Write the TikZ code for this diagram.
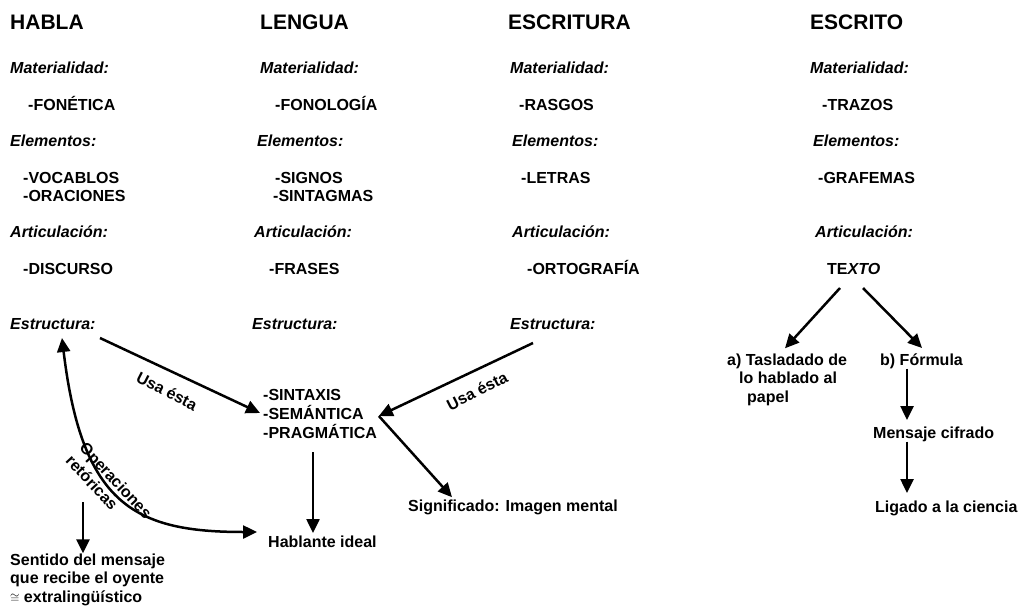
\documentclass[tikz,border=0pt]{standalone}
\usepackage{fontspec}
\setmainfont{Liberation Sans}
\usetikzlibrary{arrows.meta,calc}
\begin{document}
\begin{tikzpicture}[x=1pt,y=-1pt,
  txt/.style={anchor=base west,inner sep=0pt,font=\fontsize{16}{18.5}\selectfont\bfseries},
  lab/.style={anchor=base west,inner sep=0pt,font=\fontsize{16}{18.5}\selectfont\bfseries\itshape},
  head/.style={anchor=base west,inner sep=0pt,font=\fontsize{21}{24}\selectfont\bfseries},
  rot/.style={inner sep=0pt,font=\fontsize{16}{19}\selectfont\bfseries},
  arr/.style={line width=2.5pt,-{Triangle[length=14pt,width=13pt]}},
  darr/.style={line width=2.5pt,{Triangle[length=14pt,width=13pt]}-{Triangle[length=14pt,width=13pt]}},
]
\useasboundingbox (0,0) rectangle (1023,608);

% column 1: HABLA
\node[head] (h1) at (10,29) {HABLA};
\node[lab] (m1) at (10,73) {Materialidad:};
\node[txt] (f1) at (28,110) {-FONÉTICA};
\node[lab] (el1) at (10,146) {Elementos:};
\node[txt] (v1) at (23,183) {-VOCABLOS};
\node[txt] (o1) at (23,201) {-ORACIONES};
\node[lab] (a1) at (10,237) {Articulación:};
\node[txt] (d1) at (23,274) {-DISCURSO};
\node[lab] (e1) at (10,329) {Estructura:};

% column 2: LENGUA
\node[head] (h2) at (260,29) {LENGUA};
\node[lab] (m2) at (260,73) {Materialidad:};
\node[txt] (f2) at (275,110) {-FONOLOGÍA};
\node[lab] (el2) at (257,146) {Elementos:};
\node[txt] (s2) at (275,183) {-SIGNOS};
\node[txt] (t2) at (273,201) {-SINTAGMAS};
\node[lab] (a2) at (254,237) {Articulación:};
\node[txt] (fr2) at (269,274) {-FRASES};
\node[lab] (e2) at (252,329) {Estructura:};

% column 3: ESCRITURA
\node[head] (h3) at (508,29) {ESCRITURA};
\node[lab] (m3) at (510,73) {Materialidad:};
\node[txt] (r3) at (519,110) {-RASGOS};
\node[lab] (el3) at (512,146) {Elementos:};
\node[txt] (l3) at (521,183) {-LETRAS};
\node[lab] (a3) at (512,237) {Articulación:};
\node[txt] (or3) at (527,274) {-ORTOGRAFÍA};
\node[lab] (e3) at (510,329) {Estructura:};

% column 4: ESCRITO
\node[head] (h4) at (810,29) {ESCRITO};
\node[lab] (m4) at (810,73) {Materialidad:};
\node[txt] (tr4) at (822,110) {-TRAZOS};
\node[lab] (el4) at (813,146) {Elementos:};
\node[txt] (g4) at (818,183) {-GRAFEMAS};
\node[lab] (a4) at (815,237) {Articulación:};
\node[txt] (texto) at (827,274) {TE\textit{XTO}};

% centre block
\node[txt] (sin) at (263,400) {-SINTAXIS};
\node[txt] (sem) at (263,419) {-SEMÁNTICA};
\node[txt] (prag) at (263,438) {-PRAGMÁTICA};
\node[txt] (hab) at (268,547) {Hablante ideal};
\node[txt] (sig) at (408,511) {Significado: Imagen mental};
\node[txt,anchor=north west,align=left] (sen) at (10,553.3)
  {Sentido del mensaje\\que recibe el oyente\\{\normalfont\fontsize{12}{12}\selectfont$\cong$} extralingüístico};

% right block
\node[txt,anchor=north west,align=left] (tas) at (727,353.3)
  {a) Tasladado de\\\hspace*{12pt}lo hablado al\\\hspace*{20pt}papel};
\node[txt] (fo) at (880,365) {b) Fórmula};
\node[txt] (men) at (873,438) {Mensaje cifrado};
\node[txt] (lig) at (875,512) {Ligado a la ciencia};

% coordinates
\coordinate (semR) at ($(sem.base east)+(15,-3)$);
\coordinate (senS) at (83,502);

% connectors
\draw[arr] ($(e1.base west)+(90,9)$) -- ($(sem.base west)+(-3,-6)$);
\node[rot,rotate=-27] (usa1) at (167,391) {Usa ésta};
\draw[arr] ($(e3.base west)+(23,14)$) -- (semR);
\node[rot,rotate=27] (usa2) at (477,391) {Usa ésta};
\draw[arr] (semR) -- ($(sig.north west)+(44,-2)$);
\draw[arr] ($(prag.base west)+(50,14)$) -- ($(hab.base west)+(45,-14)$);
\draw[darr] ($(e1.base west)+(52,9)$) .. controls (82,505) and (135,532) .. ($(hab.base west)+(-11,-15)$);
\node[rot,rotate=-47,align=left] (oper) at (109,487) {Operaciones\\retóricas};
\draw[arr] (senS) -- ($(sen.north west)+(73,0)$);

\draw[arr] ($(texto.base west)+(13,14)$) -- ($(tas.north west)+(58,-5)$);
\draw[arr] ($(texto.base west)+(36,14)$) -- ($(fo.base west)+(42,-17)$);
\draw[arr] ($(fo.base west)+(27,3.5)$) -- ($(men.base west)+(34,-18)$);
\draw[arr] ($(men.base west)+(34,3.5)$) -- ($(lig.base west)+(32,-19)$);
\end{tikzpicture}
\end{document}
